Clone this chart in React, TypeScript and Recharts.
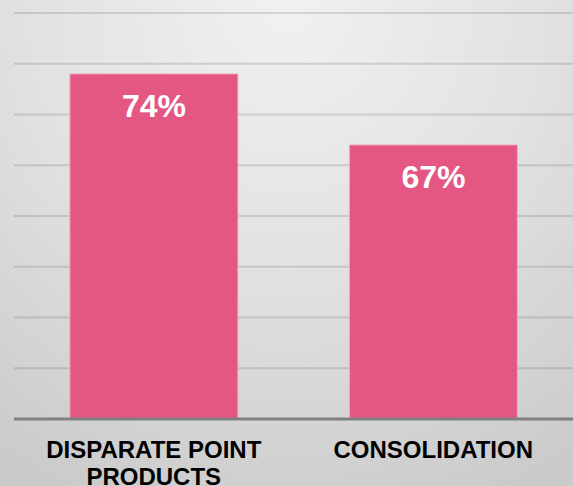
import { Bar, BarChart, CartesianGrid, LabelList, XAxis, YAxis } from 'recharts';

const categories = ['DISPARATE POINT\nPRODUCTS', 'CONSOLIDATION'];
const shares = [74, 67];
const yTicks = [40, 45, 50, 55, 60, 65, 70, 75, 80];

const data = categories.map((name, i) => ({ name, share: shares[i] }));

const FONT = '"Liberation Sans", Arial, sans-serif';

function CategoryTick(props: any) {
  const { x, y, payload } = props;
  const lines = String(payload.value).split('\n');
  return (
    <text
      x={x}
      y={y}
      textAnchor="middle"
      fontFamily={FONT}
      fontWeight={700}
      fontSize={24}
      fill="#000"
    >
      {lines.map((line, i) => (
        <tspan key={i} x={x} dy={i === 0 ? 31 : 27}>
          {line}
        </tspan>
      ))}
    </text>
  );
}

function ValueLabel(props: any) {
  const { x, y, width, value } = props;
  return (
    <text
      x={x + width / 2}
      y={y + 43}
      textAnchor="middle"
      fontFamily={FONT}
      fontWeight={700}
      fontSize={32}
      fill="#fff"
    >
      {`${value}%`}
    </text>
  );
}

export default function App() {
  return (
    <div
      style={{
        position: 'absolute',
        left: 0,
        top: 0,
        width: 573,
        height: 486,
        background: 'radial-gradient(ellipse 90% 110% at 50% 0%, #f1f1f1 0%, #e2e2e2 50%, #cbcbcb 100%)',
      }}
    >
      <BarChart
        width={573}
        height={486}
        data={data}
        margin={{ top: 13, right: 0, left: 14, bottom: 0 }}
        barCategoryGap="20%"
      >
        <CartesianGrid vertical={false} stroke="#000" strokeOpacity={0.12} strokeWidth={2} />
        <YAxis hide domain={[40, 80]} ticks={yTicks} />
        <XAxis
          dataKey="name"
          height={67}
          tickLine={false}
          axisLine={{ stroke: '#808080', strokeWidth: 3 }}
          tick={<CategoryTick />}
          interval={0}
        />
        <Bar dataKey="share" fill="#e45783" stroke="#f4aac3" strokeWidth={1} isAnimationActive={false}>
          <LabelList dataKey="share" content={<ValueLabel />} />
        </Bar>
      </BarChart>
    </div>
  );
}
